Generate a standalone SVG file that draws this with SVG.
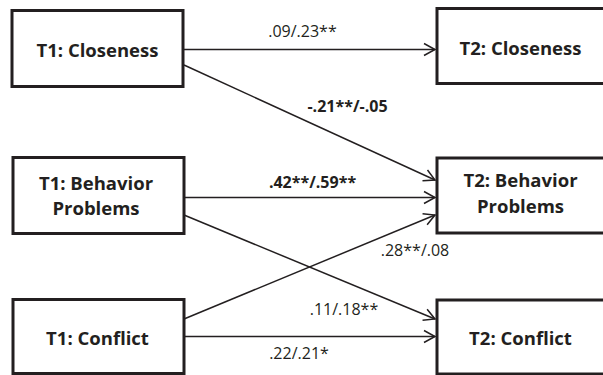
<svg xmlns="http://www.w3.org/2000/svg" width="603" height="375" viewBox="0 0 603 375">
<defs>
<style>
.box{fill:#fff;stroke:#231f20;stroke-width:3}
.node{font-family:"Open Sans","Liberation Sans",sans-serif;font-weight:bold;font-size:18.5px;fill:#231f20;text-anchor:middle}
.lbl{font-family:"Open Sans","Liberation Sans",sans-serif;font-size:16px;fill:#231f20;text-anchor:middle}
.b{font-weight:bold}
.edge{stroke:#231f20;stroke-width:1.5;fill:none;marker-end:url(#arr)}
</style>
<marker id="arr" markerUnits="userSpaceOnUse" viewBox="-13 -8 15 16" refX="0" refY="0" markerWidth="15" markerHeight="16" orient="auto">
<path d="M-11,-6 L0,0 L-11,6" fill="none" stroke="#231f20" stroke-width="1.5"/>
</marker>
</defs>
<rect width="603" height="375" fill="#fff"/>
<g id="connectors">
<line class="edge" x1="184" y1="49.5" x2="435" y2="49.5"/>
<line class="edge" x1="184" y1="65" x2="435" y2="180"/>
<line class="edge" x1="184" y1="197.5" x2="435" y2="197.5"/>
<line class="edge" x1="184" y1="215" x2="435" y2="319"/>
<line class="edge" x1="184" y1="319" x2="435" y2="215"/>
<line class="edge" x1="184" y1="336.5" x2="435" y2="336.5"/>
<text class="lbl" x="302.5" y="37">.09/.23**</text>
<text class="lbl b" x="347.5" y="112">-.21**/-.05</text>
<text class="lbl b" x="312.5" y="188">.42**/.59**</text>
<text class="lbl" x="415" y="256">.28**/.08</text>
<text class="lbl" x="344" y="315">.11/.18**</text>
<text class="lbl" x="299" y="359">.22/.21*</text>
</g>
<g id="t1-closeness">
<rect class="box" x="12" y="10.5" width="171" height="76"/>
<text class="node" x="97.5" y="57">T1: Closeness</text>
</g>
<g id="t1-behavior">
<rect class="box" x="13" y="157.5" width="171" height="76"/>
<text class="node" x="96" y="190">T1: Behavior</text>
<text class="node" x="96" y="215">Problems</text>
</g>
<g id="t1-conflict">
<rect class="box" x="13" y="299.5" width="171" height="74"/>
<text class="node" x="97.5" y="345">T1: Conflict</text>
</g>
<g id="t2-closeness">
<rect class="box" x="437" y="8.5" width="172" height="75"/>
<text class="node" x="520.5" y="55">T2: Closeness</text>
</g>
<g id="t2-behavior">
<rect class="box" x="437" y="158" width="172" height="75"/>
<text class="node" x="520.5" y="187">T2: Behavior</text>
<text class="node" x="520.5" y="213">Problems</text>
</g>
<g id="t2-conflict">
<rect class="box" x="437" y="300" width="172" height="74"/>
<text class="node" x="520.5" y="345">T2: Conflict</text>
</g>
</svg>
